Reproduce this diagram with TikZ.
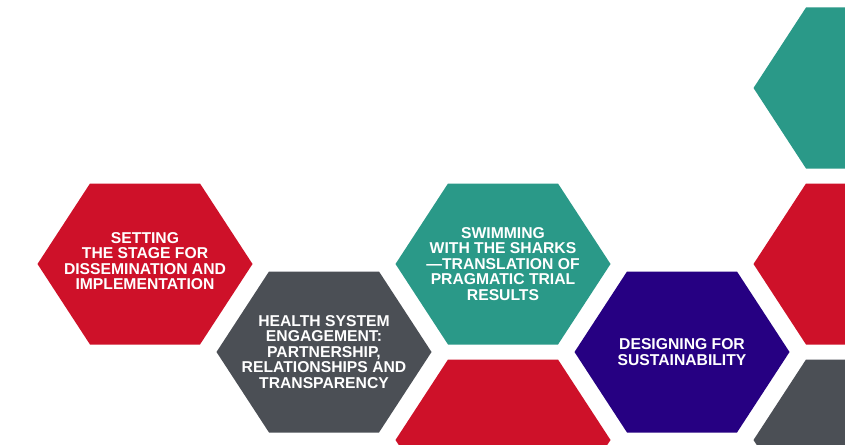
\documentclass[tikz,border=0pt]{standalone}
\usepackage{fontspec}
\setmainfont{Liberation Sans}
\definecolor{hred}{HTML}{CE1129}
\definecolor{hteal}{HTML}{2A9988}
\definecolor{hgray}{HTML}{4B4F55}
\definecolor{hpurple}{HTML}{260082}
\newcommand\hexat[2]{%
  \fill[#2] ([shift={(107.5,0)}]#1) -- ([shift={(55,-80.5)}]#1) -- ([shift={(-55,-80.5)}]#1)
    -- ([shift={(-107.5,0)}]#1) -- ([shift={(-55,80.5)}]#1) -- ([shift={(55,80.5)}]#1) -- cycle;}
\begin{document}
\begin{tikzpicture}[x=1pt,y=-1pt,
  hexlabel/.style={text=white,align=center,inner sep=0pt,
    font=\fontsize{15.7}{15.5}\selectfont\bfseries}]
\useasboundingbox (0,0) rectangle (845,444);
\clip (0,0) rectangle (845,444);
\fill[white] (0,0) rectangle (845,444);
\coordinate (c1) at (861,88);
\coordinate (c2) at (145,264);
\coordinate (c3) at (503,264);
\coordinate (c4) at (861,264);
\coordinate (c5) at (324,352);
\coordinate (c6) at (682,352);
\coordinate (c7) at (503,440);
\coordinate (c8) at (861,440);
\hexat{c1}{hteal}
\hexat{c2}{hred}
\hexat{c3}{hteal}
\hexat{c4}{hred}
\hexat{c5}{hgray}
\hexat{c6}{hpurple}
\hexat{c7}{hred}
\hexat{c8}{hgray}
\node[hexlabel] (t2) at ([yshift=3]c2) {SETTING\\THE STAGE FOR\\DISSEMINATION AND\\IMPLEMENTATION};
\node[hexlabel] (t3) at (c3) {SWIMMING\\WITH THE SHARKS\\—TRANSLATION OF\\PRAGMATIC TRIAL\\RESULTS};
\node[hexlabel] (t5) at (c5) {HEALTH SYSTEM\\ENGAGEMENT:\\PARTNERSHIP,\\RELATIONSHIPS AND\\TRANSPARENCY};
\node[hexlabel] (t6) at (c6) {DESIGNING FOR\\SUSTAINABILITY};
\end{tikzpicture}
\end{document}
